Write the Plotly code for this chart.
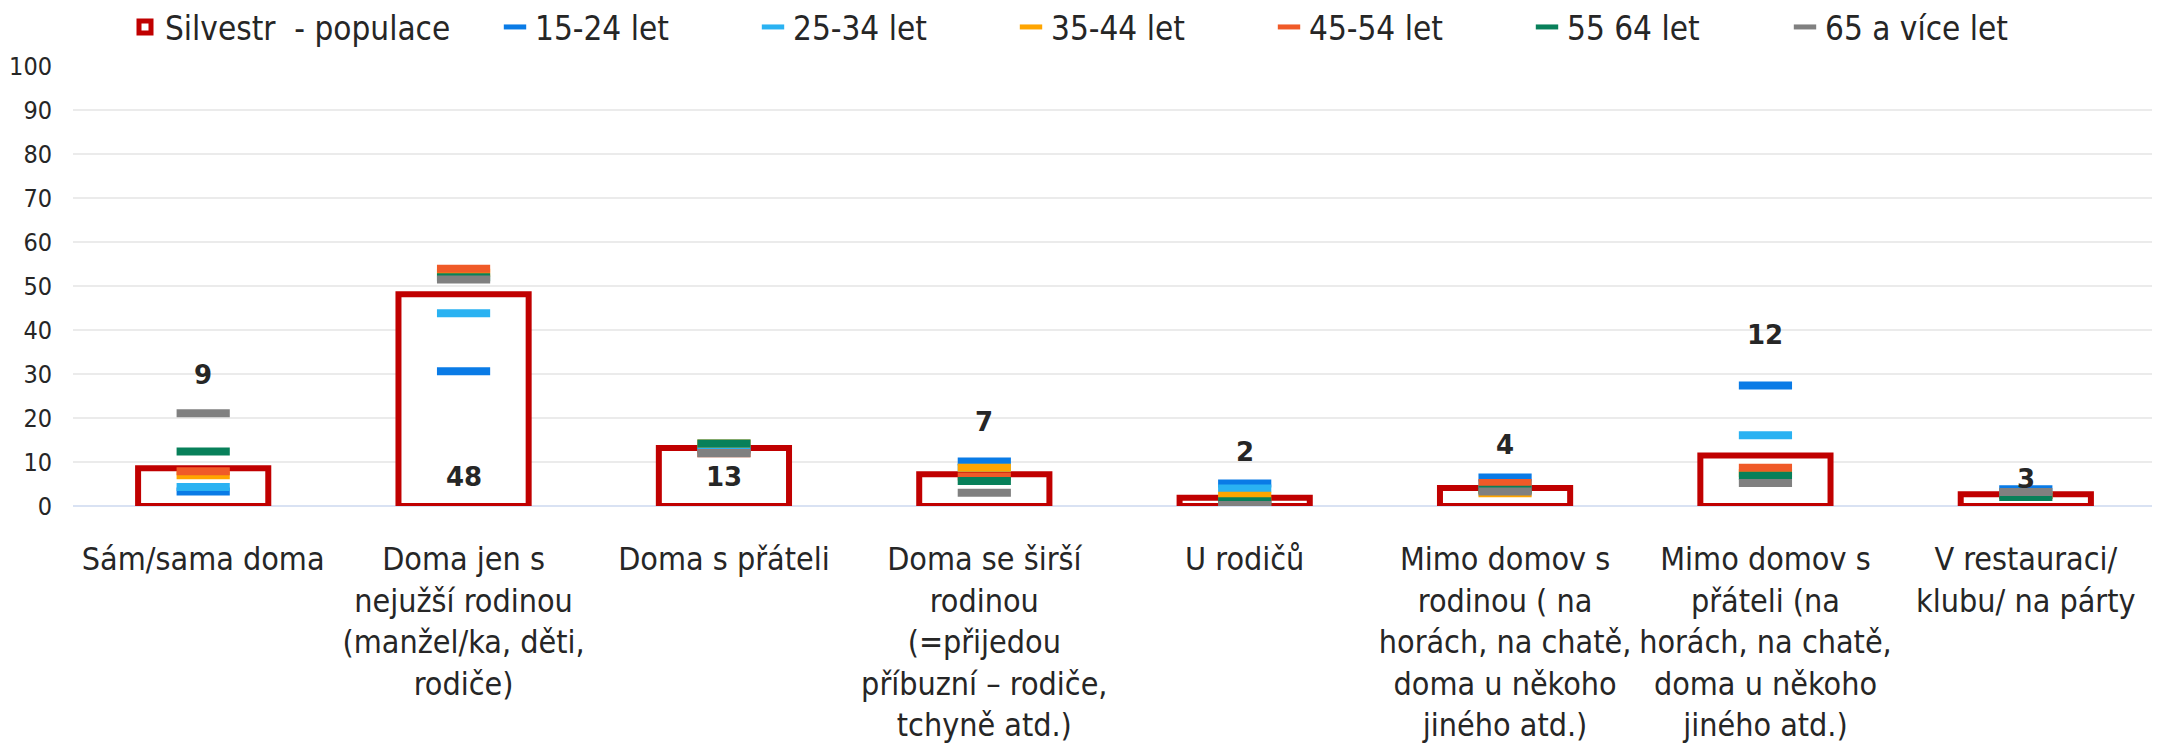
import plotly.graph_objects as go

categories = [
    "Sám/sama doma",
    "Doma jen s<br>nejužší rodinou<br>(manžel/ka, děti,<br>rodiče)",
    "Doma s přáteli",
    "Doma se širší<br>rodinou<br>(=přijedou<br>příbuzní – rodiče,<br>tchyně atd.)",
    "U rodičů",
    "Mimo domov s<br>rodinou ( na<br>horách, na chatě,<br>doma u někoho<br>jiného atd.)",
    "Mimo domov s<br>přáteli (na<br>horách, na chatě,<br>doma u někoho<br>jiného atd.)",
    "V restauraci/<br>klubu/ na párty",
]

populace = [8.6, 48.1, 13.2, 7.2, 1.9, 4.1, 11.5, 2.65]
populace_labels = ["9", "48", "13", "7", "2", "4", "12", "3"]

age_names = ["15-24 let", "25-34 let", "35-44 let", "45-54 let", "55 64 let", "65 a více let"]
age_15_24 = [3.3, 30.6, 13.0, 10.1, 5.1, 6.45, 27.4, 3.8]
age_25_34 = [4.3, 43.8, 12.8, 8.7, 3.95, 5.0, 16.1, 2.5]
age_35_44 = [7.0, 53.0, 14.2, 8.7, 2.35, 2.9, 7.5, 2.5]
age_45_54 = [7.9, 53.9, 12.0, 6.7, 0.6, 5.2, 8.7, 2.5]
age_55_64 = [12.4, 52.0, 14.2, 5.7, 1.1, 3.7, 6.9, 2.05]
age_65 = [21.1, 51.5, 12.0, 3.0, 0.2, 3.3, 5.2, 3.2]

# layout-only: vertical placement of the population data labels
label_y = [29.7, 6.6, 6.6, 19.1, 12.3, 13.8, 38.8, 6.2]

age_series = [age_15_24, age_25_34, age_35_44, age_45_54, age_55_64, age_65]
age_colors = ["#0A7BE6", "#2AB2F2", "#FFA500", "#F05A28", "#08805A", "#808080"]

FONT = "Liberation Sans Narrow, DejaVu Sans Condensed, Liberation Sans, sans-serif"

fig = go.Figure()

fig.add_trace(go.Bar(
    x=categories, y=populace, name="Silvestr  - populace",
    marker=dict(color="white", line=dict(color="#C00000", width=6)),
    legend="legend",
))

for name, vals, col in zip(age_names, age_series, age_colors):
    fig.add_trace(go.Scatter(
        x=categories, y=vals, name=name, mode="markers",
        marker=dict(symbol="line-ew", size=38, color=col,
                    line=dict(color=col, width=8)),
        legend="legend2",
    ))

for cat, txt, ly in zip(categories, populace_labels, label_y):
    fig.add_annotation(x=cat, y=ly, text=txt, showarrow=False,
                       font=dict(family="DejaVu Sans", size=26, color="#262626", weight="bold"))

W, H = 2160, 754
fig.update_layout(
    width=W, height=H,
    margin=dict(l=65, r=12, t=58, b=256, autoexpand=False),
    plot_bgcolor="white", paper_bgcolor="white",
    bargap=0.5,
    font=dict(family=FONT, color="#262626"),
    legend=dict(orientation="h", xref="container", yref="container",
                x=117 / W, y=1 - 19 / H, xanchor="left", yanchor="middle",
                font=dict(family=FONT, size=33, color="#262626")),
    legend2=dict(orientation="h", xref="container", yref="container",
                 x=487 / W, y=1 - 19 / H, xanchor="left", yanchor="middle",
                 entrywidth=213, entrywidthmode="pixels",
                 font=dict(family=FONT, size=33, color="#262626")),
    showlegend=True,
)

fig.update_yaxes(range=[0, 100], dtick=10, showgrid=True, gridcolor="#EBEBEB", gridwidth=2,
                 zeroline=True, zerolinecolor="#D9E2F3", zerolinewidth=2,
                 showline=False, ticks="", ticklabelstandoff=20, automargin=False,
                 tickfont=dict(family=FONT, size=25, color="#262626"))
fig.update_xaxes(showgrid=False, showline=False, ticks="", ticklabelstandoff=31, automargin=False,
                 tickfont=dict(family=FONT, size=32, color="#262626"), tickangle=0)

fig.write_html("out.html")
